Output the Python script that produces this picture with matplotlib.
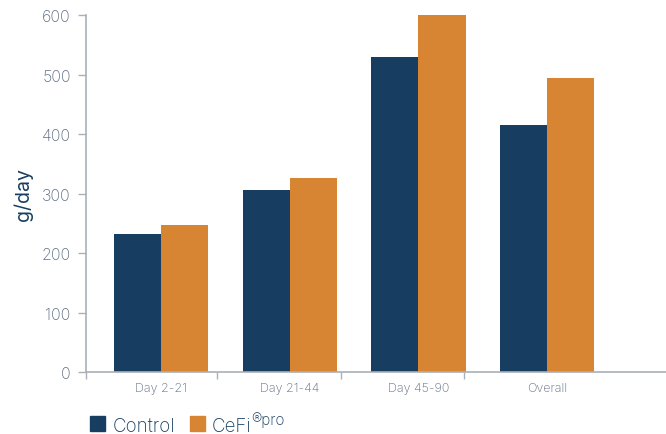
import matplotlib
matplotlib.use("Agg")
import matplotlib.pyplot as plt
import numpy as np
from matplotlib.patches import Rectangle

plt.rcParams['font.family'] = ['Inter', 'DejaVu Sans']
plt.rcParams['font.weight'] = 'light'

categories = ["Day 2-21", "Day 21-44", "Day 45-90", "Overall"]
control = [232, 306, 529, 415]
cefi = [247, 326, 602, 494]

navy = "#173d61"
orange = "#d78533"
tickcol = "#5e6e82"
spinecol = "#a9b0b8"

fig = plt.figure(figsize=(6.66, 4.35), dpi=100)
ax = fig.add_axes([0.129, 0.1425, 0.871, 0.8205])

x = np.arange(len(categories))
w = 0.365
ax.bar(x - w / 2, control, w, color=navy)
ax.bar(x + w / 2, cefi, w, color=orange)

ax.set_xlim(-0.58, 3.92)
ax.set_ylim(0, 600)
ax.set_yticks(range(0, 601, 100))
ax.tick_params(axis='y', colors=spinecol, labelcolor=tickcol, labelsize=11.5,
               length=6, width=1, direction='out', pad=5)

# category labels centered, tick marks at group boundaries
ax.set_xticks(x)
ax.set_xticklabels(categories)
ax.tick_params(axis='x', which='major', length=0, labelcolor=tickcol,
               labelsize=9, pad=7)
ax.set_xticks([-0.58, 0.44, 1.4, 2.35], minor=True)
ax.tick_params(axis='x', which='minor', length=5, width=1, colors=spinecol)

for s in ['top', 'right']:
    ax.spines[s].set_visible(False)
for s in ['left', 'bottom']:
    ax.spines[s].set_color(spinecol)
    ax.spines[s].set_linewidth(1.2)

ax.set_ylabel("g/day", fontsize=14, color=navy, labelpad=6, fontweight='normal')

# legend drawn by hand
fig.patches.append(Rectangle((90 / 666, 1 - 432 / 435), 15 / 666, 15 / 435,
                             transform=fig.transFigure, color=navy))
fig.text(113 / 666, 1 - 432 / 435, "Control", fontsize=13.5, color=navy,
         va='baseline')
fig.patches.append(Rectangle((190 / 666, 1 - 432 / 435), 15 / 666, 15 / 435,
                             transform=fig.transFigure, color=orange))
t = fig.text(212 / 666, 1 - 432 / 435, "CeFi", fontsize=13.5, color=navy,
             va='baseline')
ax.annotate("®pro", xy=(0.99, 0.6), xycoords=t, fontsize=11, color=navy,
            va='baseline', ha='left', annotation_clip=False)

fig.savefig("out.png", dpi=100)
